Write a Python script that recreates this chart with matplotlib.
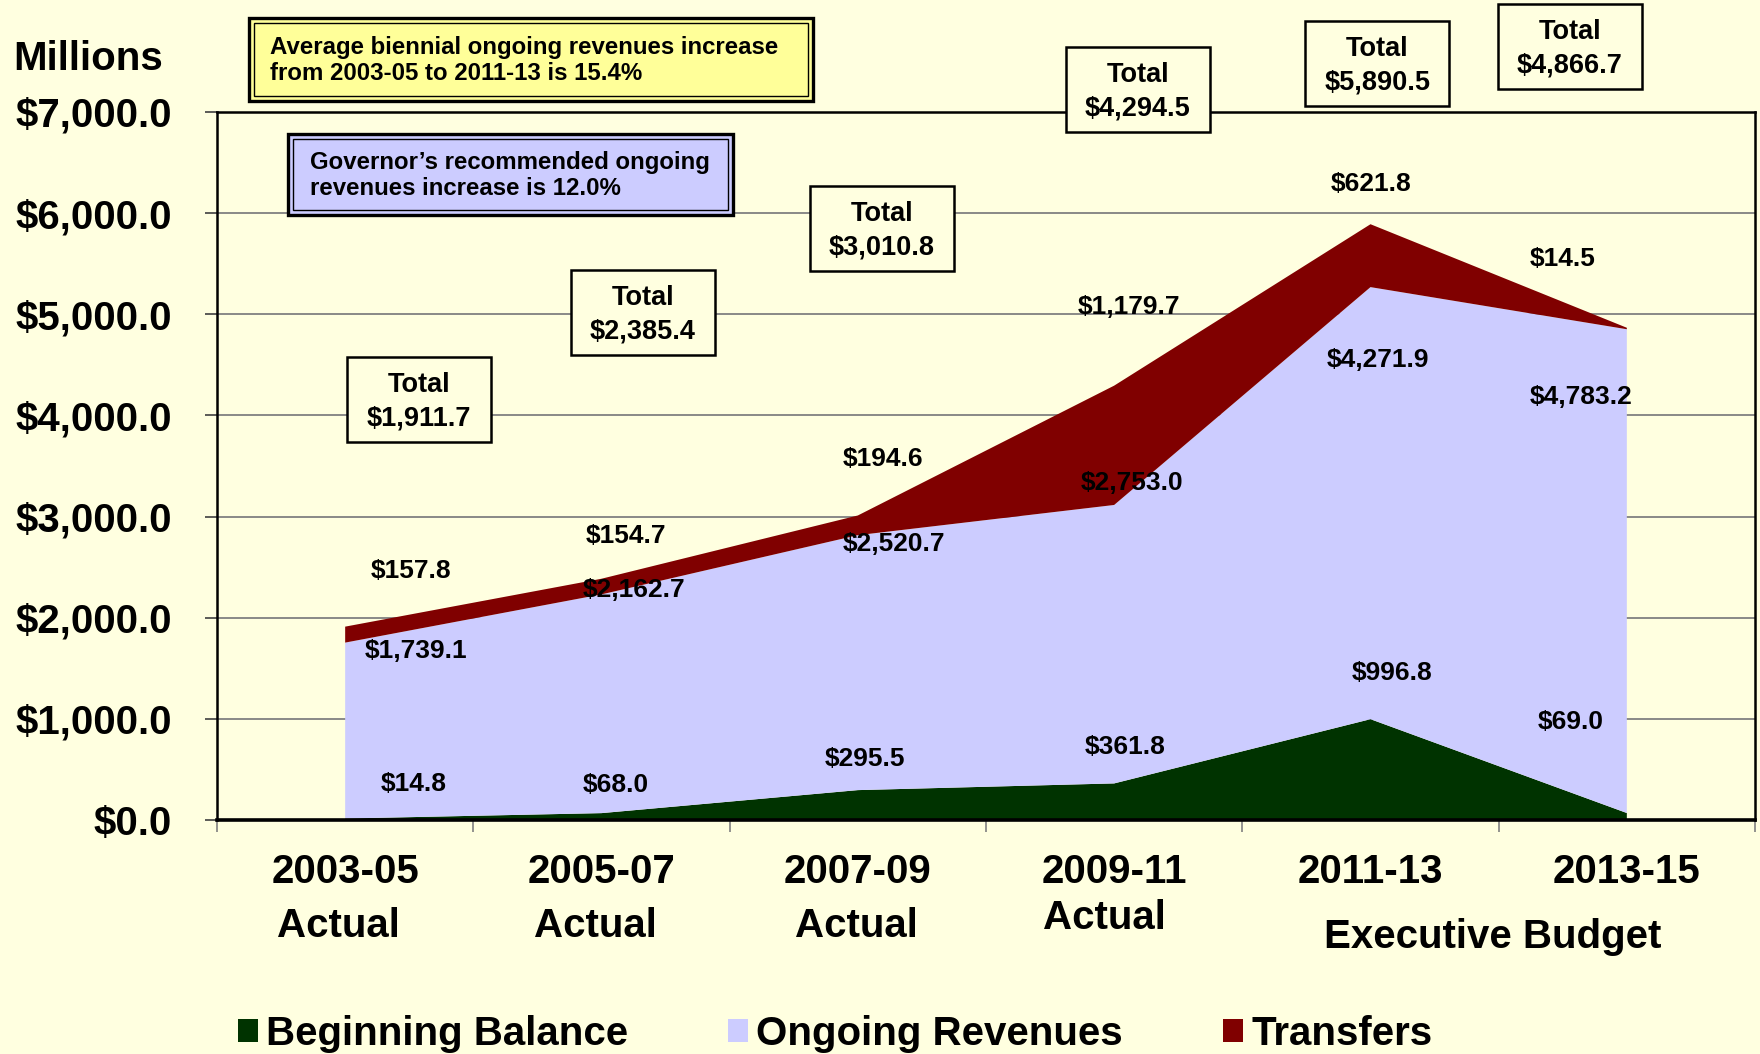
import matplotlib
matplotlib.use("Agg")
import matplotlib.pyplot as plt
import matplotlib.transforms as mtransforms
from matplotlib.patches import Patch, Rectangle

plt.rcParams['font.family'] = ['Liberation Sans', 'DejaVu Sans']
plt.rcParams['font.weight'] = 'bold'

# ---------------- data ----------------
periods = ["2003-05", "2005-07", "2007-09", "2009-11", "2011-13", "2013-15"]
period_notes = ["Actual", "Actual", "Actual", "Actual"]
budget_note = "Executive Budget"
beginning_balance = [14.8, 68.0, 295.5, 361.8, 996.8, 69.0]
ongoing_revenues = [1739.1, 2162.7, 2520.7, 2753.0, 4271.9, 4783.2]
transfers = [157.8, 154.7, 194.6, 1179.7, 621.8, 14.5]
totals = [1911.7, 2385.4, 3010.8, 4294.5, 5890.5, 4866.7]
series_names = ["Beginning Balance", "Ongoing Revenues", "Transfers"]
y_ticks = [0, 1000, 2000, 3000, 4000, 5000, 6000, 7000]
note_avg = "Average biennial ongoing revenues increase\nfrom 2003-05 to 2011-13 is 15.4%"
note_gov = "Governor\u2019s recommended ongoing\nrevenues increase is 12.0%"

# ---------------- label placement (x in category units, y in $M) ----------------
bb_label_pos = [(0.269, 355), (1.057, 344), (2.028, 599), (3.044, 721), (4.085, 1453), (4.781, 965)]
rev_label_pos = [(0.278, 1675), (1.127, 2274), (2.142, 2729), (3.070, 3328), (4.028, 4549), (4.820, 4182)]
tr_label_pos = [(0.256, 2463), (1.096, 2807), (2.098, 3572), (3.057, 5070), (4.002, 6290), (4.751, 5547)]
total_box_pos = [(0.287, 4160), (1.162, 5020), (2.094, 5852), (3.092, 7222), (4.026, 7483), (4.777, 7649)]
note_pos = [(-0.028, -0.1495), (0.978, -0.1495), (1.994, -0.1495), (2.961, -0.138)]
budget_note_pos = (4.475, -0.165)

# ---------------- style ----------------
BG = '#FFFFE0'
C_BB = '#003300'
C_REV = '#CCCCFF'
C_TR = '#800000'
W, H = 1760, 1054
BIG = 29
LBL = 19

def fx(x):
    return x / W

def fy(y):
    return 1 - y / H

fig = plt.figure(figsize=(W / 100, H / 100), dpi=100, facecolor=BG)
ax = fig.add_axes([fx(217), fy(820), (1755 - 217) / W, (820 - 112) / H])
ax.set_facecolor(BG)

x = list(range(len(periods)))
ax.stackplot(x, beginning_balance, ongoing_revenues, transfers,
             colors=[C_BB, C_REV, C_TR], linewidth=0, zorder=2, antialiased=True)

ax.set_xlim(-0.5, len(periods) - 0.5)
ax.set_ylim(y_ticks[0], y_ticks[-1])

# y axis
ax.set_yticks(y_ticks)
ax.set_yticklabels([f"${v:,.1f}" for v in y_ticks])
ax.tick_params(axis='y', direction='out', length=8.6, width=1.2, color='#404040',
               labelsize=BIG, pad=24)
ax.yaxis.grid(True, color='#808080', linewidth=1.3, zorder=0)
ax.set_axisbelow(True)

# x axis
ax.set_xticks(x)
ax.set_xticklabels(periods)
ax.set_xticks([i - 0.5 for i in range(len(periods) + 1)], minor=True)
ax.tick_params(axis='x', which='major', length=0, labelsize=BIG, pad=24)
ax.tick_params(axis='x', which='minor', direction='out', length=8.6, width=1.2, color='#808080')

for s in ['left', 'top', 'right']:
    ax.spines[s].set_linewidth(1.8)
    ax.spines[s].set_color('black')
ax.spines['bottom'].set_linewidth(2.6)
ax.spines['bottom'].set_color('black')

trans = mtransforms.blended_transform_factory(ax.transData, ax.transAxes)
for (px_, py_), note in zip(note_pos, period_notes):
    ax.text(px_, py_, note, transform=trans, ha='center', va='center', fontsize=BIG, clip_on=False)
ax.text(budget_note_pos[0], budget_note_pos[1], budget_note, transform=trans,
        ha='center', va='center', fontsize=BIG, clip_on=False)

# data labels
for (lx, ly), v in zip(bb_label_pos, beginning_balance):
    ax.text(lx, ly, f"${v:,.1f}", ha='center', va='center', fontsize=LBL, zorder=5)
for (lx, ly), v in zip(rev_label_pos, ongoing_revenues):
    ax.text(lx, ly, f"${v:,.1f}", ha='center', va='center', fontsize=LBL, zorder=5)
for (lx, ly), v in zip(tr_label_pos, transfers):
    ax.text(lx, ly, f"${v:,.1f}", ha='center', va='center', fontsize=LBL, zorder=5)

# total boxes: fixed-size frames (pixels) centred on the label position
BOX_W, BOX_H = 144, 85
for (lx, ly), v in zip(total_box_pos, totals):
    box_tr = mtransforms.Affine2D() + mtransforms.ScaledTranslation(lx, ly, ax.transData)
    rect = Rectangle((-BOX_W / 2, -BOX_H / 2), BOX_W, BOX_H, transform=box_tr,
                     fc=BG, ec='black', lw=1.8, zorder=6, clip_on=False)
    ax.add_artist(rect)
    ax.annotate(f"Total\n${v:,.1f}", xy=(lx, ly), xytext=(0, -1.8), textcoords='offset points',
                ha='center', va='center', fontsize=LBL + 0.5, zorder=7,
                annotation_clip=False, linespacing=1.38)

# "Millions"
fig.text(fx(13), fy(59), "Millions", ha='left', va='center', fontsize=BIG)

# note boxes with double border
def note_box(x0, y0, x1, y1, fc, text, tx):
    outer = Rectangle((fx(x0), fy(y1)), fx(x1) - fx(x0), fy(y0) - fy(y1),
                      transform=fig.transFigure, fc=fc, ec='black', lw=2.4, zorder=10)
    fig.add_artist(outer)
    inset = 5
    inner = Rectangle((fx(x0 + inset), fy(y1 - inset)), fx(x1 - x0 - 2 * inset), fy(y0 + inset) - fy(y1 - inset),
                      transform=fig.transFigure, fc='none', ec='black', lw=1.0, zorder=11)
    fig.add_artist(inner)
    fig.text(fx(tx), fy((y0 + y1) / 2 + 1), text, ha='left', va='center', fontsize=17.3,
             linespacing=1.2, zorder=12)

note_box(249, 18, 813, 101, '#FFFF99', note_avg, 270)
note_box(288, 134, 733, 215, '#CCCCFF', note_gov, 310)

# legend
handles = [Patch(fc=c, ec='none') for c in [C_BB, C_REV, C_TR]]
fig.legend(handles, series_names, loc='center left', bbox_to_anchor=(fx(238), fy(1034)),
           ncol=3, frameon=False, fontsize=BIG, handlelength=0.5, handleheight=0.52,
           handletextpad=0.2, columnspacing=2.48, borderpad=0, borderaxespad=0)

fig.savefig("out.png", dpi=100, facecolor=BG)
